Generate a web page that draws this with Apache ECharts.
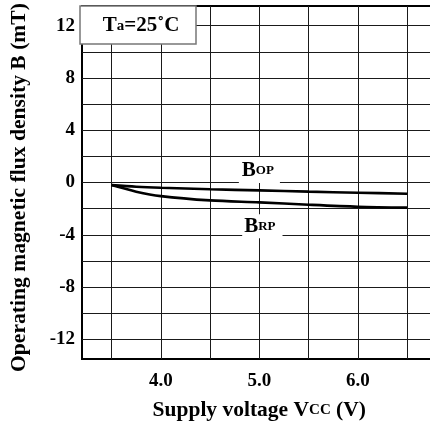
<!DOCTYPE html>
<html><head><meta charset="utf-8">
<script src="https://cdn.jsdelivr.net/npm/echarts@6/dist/echarts.min.js"></script>
<style>html,body{margin:0;padding:0;background:#fff;overflow:hidden}#c{width:460px;height:426px}</style>
</head><body><div id="c"></div>
<script>
const voltage = [3.5, 3.75, 4.0, 4.5, 5.0, 5.5, 6.0, 6.5];
const bop = [-0.2, -0.32, -0.4, -0.52, -0.6, -0.7, -0.78, -0.86];
const brp = [-0.2, -0.7, -1.04, -1.37, -1.52, -1.7, -1.85, -1.92];
const xGridValues = [3.5, 4.0, 4.5, 5.0, 5.5, 6.0, 6.5];
const xLabelValues = [4.0, 5.0, 6.0];
const yGridValues = [-12, -10, -8, -6, -4, -2, 0, 2, 4, 6, 8, 10, 12];
const yLabelValues = [-12, -8, -4, 0, 4, 8, 12];
const bopLabelAt = [5.0, 0.95];
const brpLabelAt = [5.03, -3.35];

const FONT = '"Liberation Serif", "Times New Roman", serif';
const chart = echarts.init(document.getElementById('c'), null, {renderer: 'canvas'});

function zip(xs, ys) { return xs.map((x, i) => [x, ys[i]]); }

const labelRich = {
  b: {fontFamily: FONT, fontWeight: 'bold', fontSize: 21, color: '#000'},
  s: {fontFamily: FONT, fontWeight: 'bold', fontSize: 13, color: '#000'}
};

chart.setOption({
  animation: false,
  backgroundColor: '#fff',
  grid: {left: 79, top: 6, bottom: 65, right: 3.5, show: true, borderColor: '#000', borderWidth: 2, backgroundColor: 'transparent', containLabel: false},
  xAxis: {
    type: 'value', min: 3.2, max: 7.0,
    axisLine: {show: false},
    axisTick: {show: false, customValues: xGridValues},
    axisLabel: {customValues: xLabelValues, formatter: v => v.toFixed(1), margin: 13,
      fontFamily: FONT, fontWeight: 'bold', fontSize: 19, color: '#000'},
    splitLine: {show: true, lineStyle: {color: '#1a1a1a', width: 1}},
    name: '{a|Supply voltage V}{b|CC}{a| (V)}',
    nameLocation: 'middle', nameGap: 40,
    nameTextStyle: {padding: [0, 20, 0, 0], rich: {
      a: {fontFamily: FONT, fontWeight: 'bold', fontSize: 21.5, color: '#000'},
      b: {fontFamily: FONT, fontWeight: 'bold', fontSize: 15, color: '#000'}
    }}
  },
  yAxis: {
    type: 'value', min: -13.5, max: 13.5,
    axisLine: {show: false},
    axisTick: {show: false, customValues: yGridValues},
    axisLabel: {customValues: yLabelValues, margin: 7,
      fontFamily: FONT, fontWeight: 'bold', fontSize: 19, color: '#000'},
    splitLine: {show: true, lineStyle: {color: '#1a1a1a', width: 1}},
    name: 'Operating magnetic flux density B (mT)',
    nameLocation: 'middle', nameGap: 52,
    nameTextStyle: {fontFamily: FONT, fontWeight: 'bold', fontSize: 21.6, color: '#000', padding: [0, 10, 0, 0]}
  },
  graphic: [
    {type: 'rect', z: 100, shape: {x: 80, y: 6, width: 116, height: 38}, style: {fill: '#fff', stroke: '#777', lineWidth: 1.5}},
    {type: 'text', z: 101, x: 141, y: 26, style: {
      text: '{t|T}{a|a}{t|=25}{d|˚}{t|C}', align: 'center', verticalAlign: 'middle',
      rich: {
        t: {fontFamily: FONT, fontWeight: 'bold', fontSize: 21, fill: '#000'},
        a: {fontFamily: FONT, fontWeight: 'bold', fontSize: 15, fill: '#000'},
        d: {fontFamily: FONT, fontWeight: 'bold', fontSize: 21, fill: '#000'}
      }
    }}
  ],
  series: [
    {name: 'BOP', type: 'line', data: zip(voltage, bop), smooth: 0.3, symbol: 'none',
      lineStyle: {color: '#000', width: 2.6}, z: 5,
      markPoint: {symbol: 'rect', symbolSize: 0, silent: true,
        data: [{coord: bopLabelAt}],
        label: {show: true, position: 'inside', formatter: '{b|B}{s|OP}', backgroundColor: '#fff', padding: [3, 6, 2, 3], rich: labelRich}}
    },
    {name: 'BRP', type: 'line', data: zip(voltage, brp), smooth: 0.3, symbol: 'none',
      lineStyle: {color: '#000', width: 2.6}, z: 5,
      markPoint: {symbol: 'rect', symbolSize: 0, silent: true,
        data: [{coord: brpLabelAt}],
        label: {show: true, position: 'inside', formatter: '{b|B}{s|RP}', backgroundColor: '#fff', padding: [2, 7, 1, 2], rich: labelRich}}
    }
  ]
});
</script></body></html>
